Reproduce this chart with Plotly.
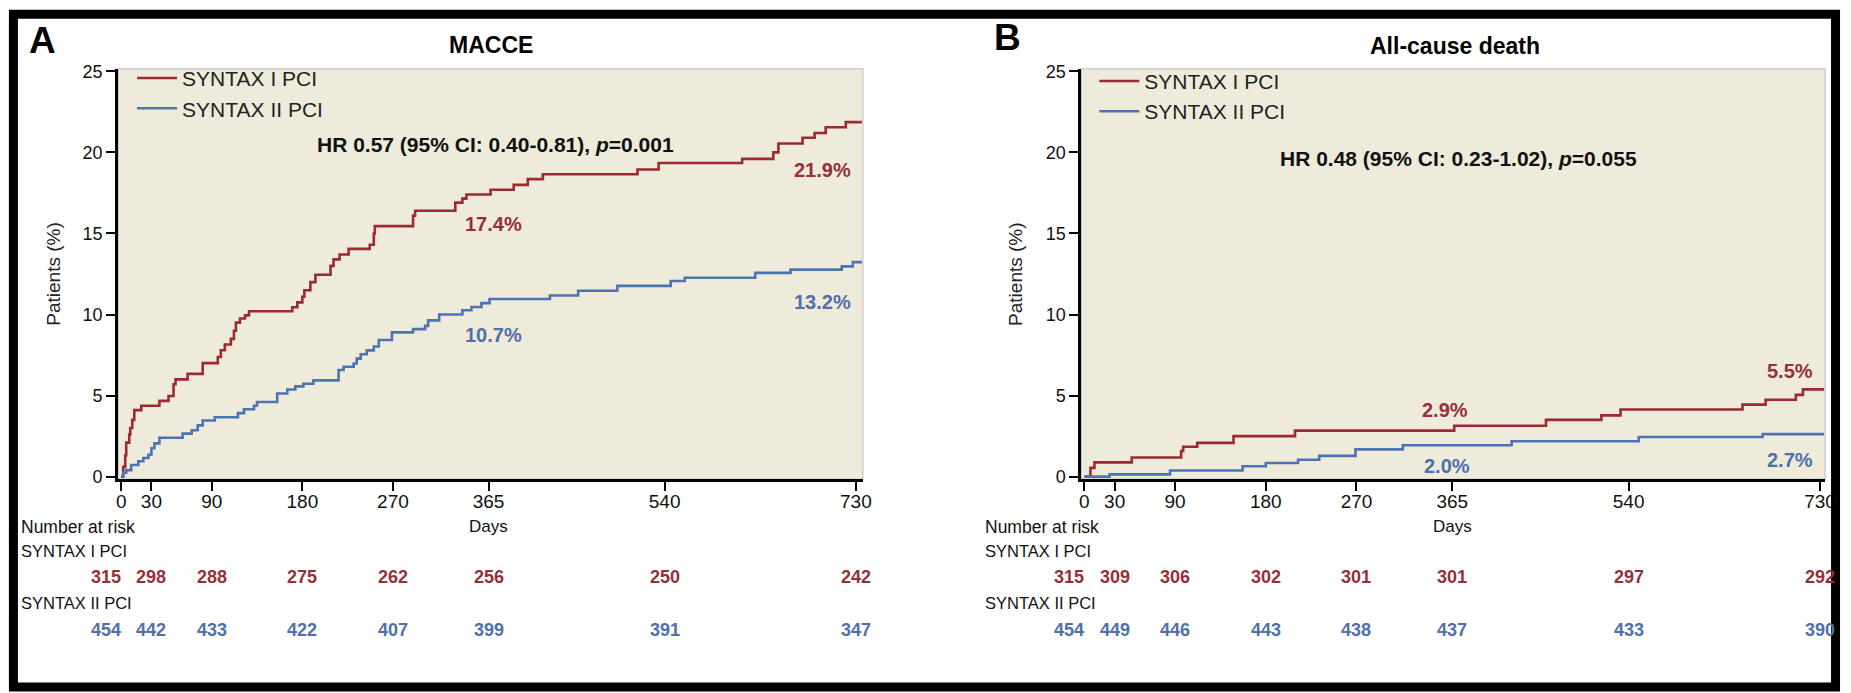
import plotly.graph_objects as go

W, H = 1851, 693

def px(x):
    return x / W

def py(y):
    return 1 - y / H

# ---------------- data ----------------
tick_days = [0, 30, 90, 180, 270, 365, 540, 730]

# Panel A: MACCE (cumulative %, step function)
macce_s1_days = [0, 2, 4, 5, 8, 9, 11, 13, 20, 38, 47, 52, 54, 66, 81, 96, 99, 103, 109, 112,
                 114, 118, 123, 127, 170, 175, 180, 182, 188, 193, 208, 211, 217, 226, 247, 251,
                 252, 290, 292, 332, 339, 343, 367, 390, 404, 419, 513, 534, 617, 648, 653, 677,
                 689, 700, 720, 736]
macce_s1_pct = [0, 0.6, 1.3, 2.1, 2.6, 3.0, 3.5, 4.1, 4.37, 4.67, 4.97, 5.7, 6.0, 6.34, 7.0, 7.38,
                7.8, 8.15, 8.5, 9.0, 9.5, 9.75, 9.95, 10.2, 10.45, 10.75, 11.1, 11.5, 12.0, 12.45,
                13.0, 13.4, 13.7, 14.05, 14.3, 15.0, 15.45, 16.1, 16.4, 16.9, 17.15, 17.4, 17.7,
                18.0, 18.35, 18.65, 18.95, 19.35, 19.6, 20.0, 20.55, 20.9, 21.2, 21.55, 21.87, 21.87]

macce_s2_days = [0, 2, 5, 10, 17, 22, 27, 30, 33, 38, 61, 70, 76, 81, 93, 116, 122, 132, 135, 155,
                 165, 173, 181, 191, 216, 221, 231, 234, 238, 244, 251, 256, 269, 290, 302, 305,
                 316, 339, 348, 358, 366, 426, 454, 493, 546, 560, 630, 665, 716, 727, 736]
macce_s2_pct = [0, 0.24, 0.4, 0.72, 0.95, 1.15, 1.35, 1.75, 2.05, 2.4, 2.65, 2.86, 3.16, 3.46, 3.66,
                3.92, 4.16, 4.37, 4.6, 5.13, 5.37, 5.57, 5.73, 5.94, 6.58, 6.78, 6.98, 7.28, 7.55,
                7.79, 8.03, 8.43, 8.9, 9.1, 9.3, 9.64, 10.0, 10.26, 10.46, 10.7, 10.96, 11.17, 11.47,
                11.77, 12.07, 12.27, 12.57, 12.77, 12.97, 13.23, 13.23]

# Panel B: all-cause death
death_s1_days = [0, 6, 10, 47, 96, 98, 112, 148, 209, 367, 458, 513, 532, 653, 676, 706, 713, 734]
death_s1_pct = [0, 0.54, 0.88, 1.18, 1.58, 1.84, 2.08, 2.5, 2.84, 3.14, 3.5, 3.78, 4.14, 4.44, 4.74,
                5.04, 5.38, 5.38]

death_s2_days = [0, 25, 85, 157, 180, 212, 233, 269, 316, 424, 550, 673, 734]
death_s2_pct = [0, 0.14, 0.38, 0.64, 0.84, 1.04, 1.28, 1.68, 1.94, 2.18, 2.44, 2.62, 2.62]

# Number at risk
risk_days = [0, 30, 90, 180, 270, 365, 540, 730]
macce_risk_s1 = [315, 298, 288, 275, 262, 256, 250, 242]
macce_risk_s2 = [454, 442, 433, 422, 407, 399, 391, 347]
death_risk_s1 = [315, 309, 306, 302, 301, 301, 297, 292]
death_risk_s2 = [454, 449, 446, 443, 438, 437, 433, 390]

series_names = ["SYNTAX I PCI", "SYNTAX II PCI"]
panel_letters = ["A", "B"]
panel_titles = ["MACCE", "All-cause death"]
hr_texts = ["HR 0.57 (95% CI: 0.40-0.81), <i>p</i>=0.001",
            "HR 0.48 (95% CI: 0.23-1.02), <i>p</i>=0.055"]

# Value labels: (text, day, pct)
macce_labels_s1 = [("17.4%", 370, 15.6), ("21.9%", 697, 18.9)]
macce_labels_s2 = [("10.7%", 370, 8.75), ("13.2%", 697, 10.76)]
death_labels_s1 = [("2.9%", 358, 4.12), ("5.5%", 700, 6.54)]
death_labels_s2 = [("2.0%", 360, 0.65), ("2.7%", 700, 1.0)]

# ---------------- style ----------------
RED = "#9d2a2e"
BLUE = "#4d74b2"
RED_TXT = "#953038"
BLUE_TXT = "#5070aa"
BG = "#efebdb"
REG = "Liberation Sans, Arial, Helvetica, sans-serif"

fig = go.Figure()

panels = [
    dict(xa="x", ya="y", leg="legend", s1=(macce_s1_days, macce_s1_pct), s2=(macce_s2_days, macce_s2_pct)),
    dict(xa="x2", ya="y2", leg="legend2", s1=(death_s1_days, death_s1_pct), s2=(death_s2_days, death_s2_pct)),
]
for p in panels:
    for (d, v), color, name in [(p["s1"], RED, series_names[0]), (p["s2"], BLUE, series_names[1])]:
        fig.add_trace(go.Scatter(
            x=d, y=v, mode="lines", name=name,
            line=dict(color=color, width=2.6, shape="hv"),
            xaxis=p["xa"], yaxis=p["ya"], legend=p["leg"], hoverinfo="skip"))

ydom = [py(482.5), py(63.3)]
axis_common = dict(showline=True, linecolor="black", linewidth=3, ticks="outside",
                   ticklen=9, tickwidth=2, tickcolor="black", showgrid=False, zeroline=False)
xtick_font = dict(family=REG, size=19, color="#111")
ytick_font = dict(family=REG, size=18, color="#111")

fig.update_layout(
    width=W, height=H,
    margin=dict(l=0, r=0, t=0, b=0),
    paper_bgcolor="white",
    plot_bgcolor=BG,
    xaxis=dict(domain=[px(117), px(867)], range=[-3, 737], tickvals=tick_days, anchor="y",
               tickfont=xtick_font, ticklabelstandoff=-6, **axis_common),
    yaxis=dict(domain=ydom, range=[-0.15, 25.15], tickvals=[0, 5, 10, 15, 20, 25], anchor="x",
               tickfont=ytick_font, **axis_common),
    xaxis2=dict(domain=[px(1087), px(1836)], range=[-3, 735], tickvals=tick_days, anchor="y2",
                tickfont=xtick_font, ticklabelstandoff=-6, **axis_common),
    yaxis2=dict(domain=ydom, range=[-0.15, 25.15], tickvals=[0, 5, 10, 15, 20, 25], anchor="x2",
                tickfont=ytick_font, **axis_common),
    legend=dict(x=px(131), y=py(52), xanchor="left", yanchor="top", bgcolor="rgba(0,0,0,0)",
                font=dict(family=REG, size=21, color="#222"), itemwidth=40, tracegroupgap=0),
    legend2=dict(x=px(1100), y=py(55), xanchor="left", yanchor="top", bgcolor="rgba(0,0,0,0)",
                 font=dict(family=REG, size=21, color="#222"), itemwidth=40, tracegroupgap=0),
)

# frames
shapes = [
    dict(type="rect", xref="x domain", yref="y domain", x0=0, x1=1, y0=0, y1=1,
         line=dict(color="#c4c4c4", width=1.2), layer="below"),
    dict(type="rect", xref="x2 domain", yref="y2 domain", x0=0, x1=1, y0=0, y1=1,
         line=dict(color="#c4c4c4", width=1.2), layer="below"),
    dict(type="rect", xref="paper", yref="paper", x0=px(11.5), x1=px(1846.5), y0=py(695), y1=py(7.5),
         line=dict(color="black", width=9), layer="above"),
]
fig.update_layout(shapes=shapes)

ann = []
# panel letters and titles
letter_pos = [(41, 34), (1013, 31)]
title_pos = [(492, 39), (1463, 40)]
for i in range(2):
    ann.append(dict(text="<b>%s</b>" % panel_letters[i], x=px(letter_pos[i][0]), y=py(letter_pos[i][1]),
                    xref="paper", yref="paper", showarrow=False, xanchor="center", yanchor="middle",
                    font=dict(family=REG, size=37, color="black")))
    ann.append(dict(text="<b>%s</b>" % panel_titles[i], x=px(title_pos[i][0]), y=py(title_pos[i][1]),
                    xref="paper", yref="paper", showarrow=False, xanchor="center", yanchor="middle",
                    font=dict(family=REG, size=23, color="black")))

# y-axis titles
for xp in [51, 1020]:
    ann.append(dict(text="Patients (%)", x=px(xp), y=py(273), xref="paper", yref="paper",
                    showarrow=False, textangle=-90, xanchor="center", yanchor="middle",
                    font=dict(family=REG, size=19, color="#222")))

# HR texts
hr_pos = [("x", "y", 372, 20.5), ("x2", "y2", 371, 19.6)]
for i, (xr, yr, xd, yv) in enumerate(hr_pos):
    ann.append(dict(text="<b>%s</b>" % hr_texts[i], x=xd, y=yv, xref=xr, yref=yr, showarrow=False,
                    xanchor="center", yanchor="middle",
                    font=dict(family=REG, size=21, color="#111")))

# value labels
for labels, color, xr, yr in [(macce_labels_s1, RED_TXT, "x", "y"), (macce_labels_s2, BLUE_TXT, "x", "y"),
                              (death_labels_s1, RED_TXT, "x2", "y2"), (death_labels_s2, BLUE_TXT, "x2", "y2")]:
    for t, d, v in labels:
        ann.append(dict(text="<b>%s</b>" % t, x=d, y=v, xref=xr, yref=yr, showarrow=False,
                        xanchor="center", yanchor="middle",
                        font=dict(family=REG, size=20, color=color)))

# Days labels and number at risk tables
tables = [("x", 17, macce_risk_s1, macce_risk_s2), ("x2", 988, death_risk_s1, death_risk_s2)]
for xr, left_px, r1, r2 in tables:
    ann.append(dict(text="Days", x=365, y=py(531), xref=xr, yref="paper", showarrow=False,
                    xanchor="center", yanchor="middle", font=dict(family=REG, size=17, color="#111")))
    for txt, yy, fs in [("Number at risk", 531, 17.5), (series_names[0], 556, 16.5), (series_names[1], 609, 16.5)]:
        ann.append(dict(text=txt, x=px(left_px), y=py(yy), xref="paper", yref="paper", showarrow=False,
                        xanchor="left", yanchor="middle", font=dict(family=REG, size=fs, color="#111")))
    for vals, color, yy in [(r1, RED_TXT, 583), (r2, BLUE_TXT, 637)]:
        for j, (d, n) in enumerate(zip(risk_days, vals)):
            ann.append(dict(text="<b>%d</b>" % n, x=(2 if j == 0 else d), y=py(yy), xref=xr, yref="paper",
                            showarrow=False, xanchor=("right" if j == 0 else "center"), yanchor="middle",
                            font=dict(family=REG, size=18, color=color)))

fig.update_layout(annotations=ann)

fig.write_html("out.html", config={"displayModeBar": False},
               post_script=("document.documentElement.style.margin='0';"
                            "document.documentElement.style.padding='0';"
                            "document.documentElement.style.overflow='hidden';"
                            "document.body.style.margin='0';document.body.style.padding='0';"
                            "document.body.style.overflow='hidden';"))
